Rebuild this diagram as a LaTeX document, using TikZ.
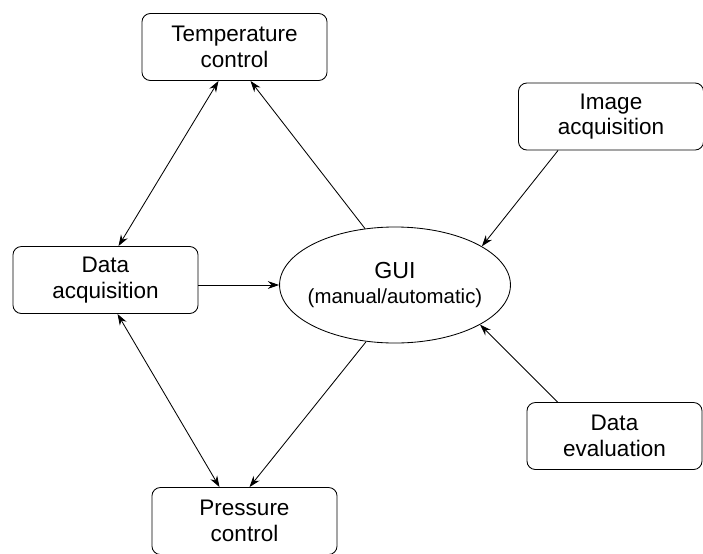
\documentclass[tikz,border=0pt]{standalone}
\usepackage{fontspec}
\setmainfont{Liberation Sans}
\usetikzlibrary{arrows.meta,shapes.geometric}

\begin{document}
\begin{tikzpicture}[x=0.025cm,y=-0.025cm,->,>={Stealth[length=8pt,width=5.5pt]},
  line width=0.6pt,
  box node/.style={rectangle,rounded corners=6pt,draw,minimum width=4.625cm,
    minimum height=1.675cm,align=center,font=\fontsize{16}{18}\selectfont},
  gui node/.style={ellipse,draw,inner xsep=-4pt,minimum height=2.9cm,
    align=center,font=\fontsize{14.5}{18}\selectfont}]

  \useasboundingbox (0,0) rectangle (703,553);

  \node[box node] (temp) at (234.5,47) {Temperature\\control};
  \node[box node] (dacq) at (105.5,280) {Data\\acquisition};
  \node[box node] (img) at (611,116.5) {Image\\acquisition};
  \node[box node,minimum width=4.375cm] (eval) at (614.5,436) {Data\\evaluation};
  \node[box node] (pres) at (244.5,521) {Pressure\\control};
  \node[gui node] (gui) at (395,285) {{\fontsize{16.5}{18}\selectfont GUI}\\(manual/automatic)};

  \path
    ([xshift=-0.4cm]temp.south) edge [<->] ([xshift=0.325cm]dacq.north)
    (gui.118) edge ([xshift=0.4cm]temp.south)
    ([xshift=1cm]img.south west) edge (gui.24)
    (dacq.east |- gui.west) edge (gui.west)
    ([xshift=0.775cm]eval.north west) edge (gui.335)
    (gui.243) edge ([xshift=0.125cm]pres.north)
    ([xshift=0.3cm]dacq.south) edge [<->] ([xshift=-0.625cm]pres.north);
\end{tikzpicture}
\end{document}
